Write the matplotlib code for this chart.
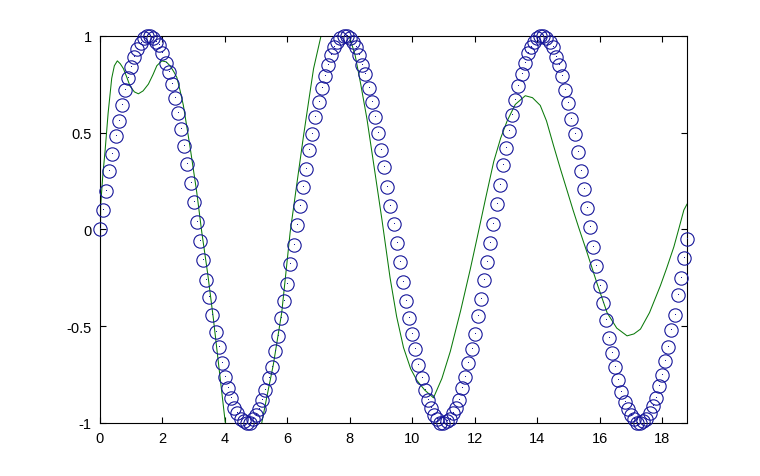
import numpy as np
import matplotlib
matplotlib.use('Agg')
import matplotlib.pyplot as plt

plt.rcParams['font.family'] = ['Liberation Sans', 'DejaVu Sans']

# sampled signal (circles), x = 0 : 0.1 : 18.8
x_circ = np.arange(189) * 0.1
y_circ = [
    0.00, 0.10, 0.20, 0.30, 0.39, 0.48, 0.56, 0.64, 0.72, 0.78,
    0.84, 0.89, 0.93, 0.96, 0.99, 1.00, 1.00, 0.99, 0.97, 0.95,
    0.91, 0.86, 0.81, 0.75, 0.68, 0.60, 0.52, 0.43, 0.34, 0.24,
    0.14, 0.04, -0.06, -0.16, -0.26, -0.35, -0.44, -0.53, -0.61, -0.69,
    -0.76, -0.82, -0.87, -0.92, -0.95, -0.98, -0.99, -1.00, -1.00, -0.98,
    -0.96, -0.93, -0.88, -0.83, -0.77, -0.71, -0.63, -0.55, -0.46, -0.37,
    -0.28, -0.18, -0.08,
    0.02, 0.12, 0.22, 0.31, 0.41, 0.49, 0.58, 0.66, 0.73, 0.79,
    0.85, 0.90, 0.94, 0.97, 0.99, 1.00, 1.00, 0.99, 0.97, 0.94,
    0.90, 0.85, 0.80, 0.73, 0.66, 0.58, 0.50, 0.41, 0.32, 0.22,
    0.12, 0.03, -0.07, -0.17, -0.27, -0.37, -0.46, -0.54, -0.62, -0.70,
    -0.77, -0.83, -0.88, -0.92, -0.96, -0.98, -1.00, -1.00, -0.99, -0.98,
    -0.95, -0.92, -0.88, -0.82, -0.76, -0.69, -0.62, -0.54, -0.45, -0.36,
    -0.26, -0.17, -0.07,
    0.03, 0.13, 0.23, 0.33, 0.42, 0.51, 0.59, 0.67, 0.74, 0.80,
    0.86, 0.91, 0.94, 0.97, 0.99, 1.00, 1.00, 0.99, 0.97, 0.94,
    0.89, 0.85, 0.79, 0.72, 0.65, 0.57, 0.49, 0.40, 0.30, 0.21,
    0.11, 0.01, -0.09, -0.19, -0.29, -0.38, -0.47, -0.56, -0.64, -0.71,
    -0.78, -0.84, -0.89, -0.93, -0.96, -0.98, -1.00, -1.00, -0.99, -0.98,
    -0.95, -0.91, -0.87, -0.81, -0.75, -0.68, -0.61, -0.52, -0.44, -0.34,
    -0.25, -0.15, -0.05,
]

# green curve
x_green = [0.0, 0.02, 0.09, 0.16, 0.26, 0.375, 0.46, 0.555, 0.65, 0.75, 0.86, 0.96,
           1.1, 1.23, 1.38, 1.55, 1.70, 1.82, 1.98, 2.12, 2.24, 2.36, 2.46, 2.56, 2.67,
           2.88, 3.10, 3.26, 3.45, 3.63, 3.85, 4.01, 4.3, 4.7, 5.0, 5.18, 5.35, 5.55,
           5.82, 6.09, 6.30, 6.52, 6.70, 6.84, 7.08, 7.4, 7.7, 7.98, 8.17, 8.35, 8.55,
           8.80, 9.03, 9.29, 9.50, 9.72, 9.95, 10.15, 10.40, 10.68, 10.95, 11.22,
           11.55, 11.86, 12.07, 12.35, 12.61, 12.83, 13.04, 13.30, 13.62, 13.85,
           14.10, 14.30, 14.53, 14.75, 14.96, 15.15, 15.33, 15.60, 15.92, 16.24,
           16.55, 16.88, 17.10, 17.31, 17.60, 17.95, 18.15, 18.38, 18.55, 18.70, 18.8]
y_green = [-0.72, 0.12, 0.28, 0.40, 0.60, 0.78, 0.845, 0.87, 0.855, 0.83, 0.785, 0.74,
           0.71, 0.70, 0.715, 0.75, 0.80, 0.845, 0.87, 0.865, 0.845, 0.815, 0.785, 0.72, 0.64,
           0.43, 0.19, -0.015, -0.23, -0.46, -0.77, -0.995, -1.12, -1.15, -1.08, -1.0, -0.86, -0.70,
           -0.43, -0.015, 0.23, 0.485, 0.68, 0.83, 1.0, 1.1, 1.1, 1.0, 0.90, 0.75, 0.57,
           0.30, 0.05, -0.25, -0.45, -0.61, -0.72, -0.78, -0.83, -0.87, -0.77, -0.63,
           -0.42, -0.205, -0.05, 0.16, 0.35, 0.47, 0.56, 0.645, 0.69, 0.68,
           0.64, 0.56, 0.43, 0.31, 0.20, 0.10, 0.01, -0.12, -0.28, -0.43,
           -0.51, -0.55, -0.54, -0.515, -0.43, -0.29, -0.20, -0.09, 0.01, 0.10, 0.13]

fig = plt.figure(figsize=(7.6, 4.77), dpi=100)
ax = fig.add_axes([100 / 760, 1 - 424 / 477, 587 / 760, 387.3 / 477])

ax.plot(x_circ, y_circ, 'o', mfc='none', mec='#16169a', ms=9.6, mew=0.8,
        clip_on=False, zorder=3)
ax.plot(x_circ, y_circ, ',', color='#16169a', clip_on=False, zorder=3)
ax.plot(x_green, y_green, '-', color='#0b7a0b', lw=0.75, zorder=2)

ax.set_xlim(0, 18.8)
ax.set_ylim(-1, 1)
ax.set_xticks(np.arange(0, 19, 2))
ax.set_yticks([-1, -0.5, 0, 0.5, 1])
ax.set_yticklabels(['-1', '-0.5', '0', '0.5', '1'])
ax.tick_params(direction='in', length=4, width=0.8, top=True, right=True,
               labelsize=10.5, pad=6)
for s in ax.spines.values():
    s.set_linewidth(0.8)

fig.savefig('out.png', dpi=100)
